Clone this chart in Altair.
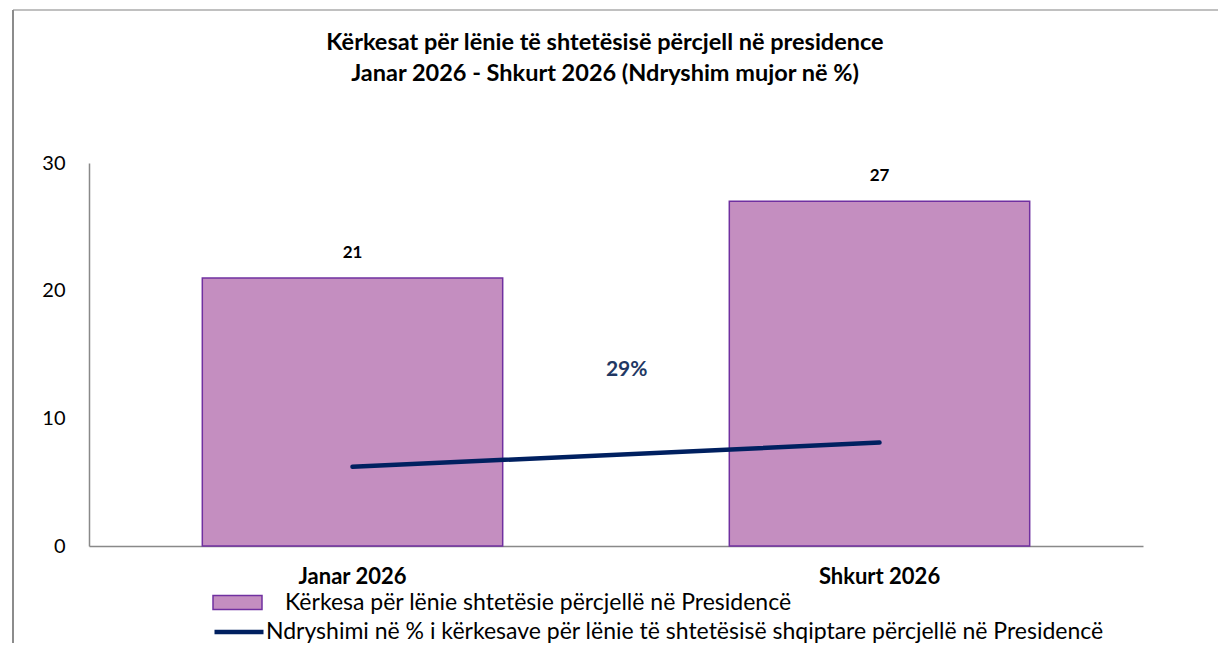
import altair as alt
import pandas as pd

categories = ["Janar 2026", "Shkurt 2026"]
requests = [21, 27]
change_line = [6.2, 8.1]
change_label = ["29%"]
change_label_y = [13.8]
y_ticks = [0, 10, 20, 30]
bar_series = "Kërkesa për lënie shtetësie përcjellë në Presidencë"
line_series = "Ndryshimi në % i kërkesave për lënie të shtetësisë shqiptare përcjellë në Presidencë"
title_lines = [
    "Kërkesat për lënie të shtetësisë përcjell në presidence",
    "Janar 2026 - Shkurt 2026 (Ndryshim mujor në %)",
]

FONT = "Lato"
BAR_FILL = "#C48EC0"
BAR_STROKE = "#7030A0"
LINE_COLOR = "#002060"

df = pd.DataFrame({
    "month": categories,
    "requests": requests,
    "change": change_line,
    "bar_series": [bar_series] * len(categories),
    "line_series": [line_series] * len(categories),
})
lab = pd.DataFrame({"month": [categories[0]], "label": change_label, "y": change_label_y})
one = pd.DataFrame({"k": [0]})

xscale = alt.Scale(domain=categories, paddingInner=0.43, paddingOuter=0.215)
x_enc = alt.X(
    "month:N", sort=categories, scale=xscale, title=None,
    axis=alt.Axis(labelAngle=0, labelFontWeight="bold", labelFontSize=22, labelFont=FONT,
                  labelColor="black", labelPadding=20, ticks=False,
                  domainColor="#898989", domainWidth=1.5),
)
yscale = alt.Scale(domain=[0, 30], nice=False, zero=True)

base = alt.Chart(df)

bars = base.mark_bar(stroke=BAR_STROKE, strokeWidth=1.5).encode(
    x=x_enc,
    y=alt.Y("requests:Q", scale=yscale, title=None,
            axis=alt.Axis(values=y_ticks, grid=False, ticks=False, labelFontSize=20,
                          labelFont=FONT, labelColor="black", labelPadding=24,
                          domainColor="#898989", domainWidth=1.5)),
    color=alt.Color("bar_series:N", scale=alt.Scale(domain=[bar_series], range=[BAR_FILL]),
                    legend=alt.Legend(title=None, orient="none", legendX=123, legendY=414,
                                      symbolType="M-1,-0.29H1V0.29H-1Z", symbolSize=2401,
                                      symbolStrokeColor=BAR_STROKE, symbolStrokeWidth=1.5,
                                      labelOffset=22)),
)

bar_labels = base.mark_text(dy=-25, fontWeight="bold", fontSize=17, font=FONT,
                            color="black", baseline="middle").encode(
    x=x_enc, y=alt.Y("requests:Q", scale=yscale), text="requests:Q"
)

line = base.mark_line(strokeWidth=4.5, strokeCap="round").encode(
    x=x_enc,
    y=alt.Y("change:Q", scale=yscale),
    stroke=alt.Stroke("line_series:N", scale=alt.Scale(domain=[line_series], range=[LINE_COLOR]),
                      legend=alt.Legend(title=None, orient="none", legendX=123, legendY=442,
                                        symbolType="stroke", symbolSize=2401,
                                        symbolStrokeWidth=4.5, labelOffset=0)),
)

pct = alt.Chart(lab).mark_text(dx=124, fontWeight="bold", fontSize=21, font=FONT,
                               color="#1F3864", baseline="middle", align="center").encode(
    x=alt.X("month:N", sort=categories, scale=xscale, bandPosition=1),
    y=alt.Y("y:Q", scale=yscale),
    text="label:N",
)

top_border = alt.Chart(one).mark_rule(color="#C0C0C0", strokeWidth=2).encode(
    x=alt.value(-76), x2=alt.value(1200), y=alt.value(-153)
)
left_border = alt.Chart(one).mark_rule(color="#8C8C8C", strokeWidth=2).encode(
    x=alt.value(-76), y=alt.value(-153), y2=alt.value(500)
)

chart = alt.layer(top_border, left_border, bars, bar_labels, line, pct).properties(
    width=1054,
    height=383,
    padding={"left": 81, "top": 155, "right": 75, "bottom": 97},
    autosize=alt.AutoSizeParams(type="none"),
    title=alt.Title(title_lines, fontSize=23.5, font=FONT, fontWeight="bold", anchor="middle",
                    frame="group", baseline="middle", offset=-88, dx=-11, lineHeight=31,
                    color="black"),
).configure_view(stroke=None).configure_legend(
    labelFont=FONT, labelFontSize=23, labelColor="black", labelLimit=1000, padding=0
)

chart.save("out.html", embed_options={"renderer": "svg", "actions": False})
